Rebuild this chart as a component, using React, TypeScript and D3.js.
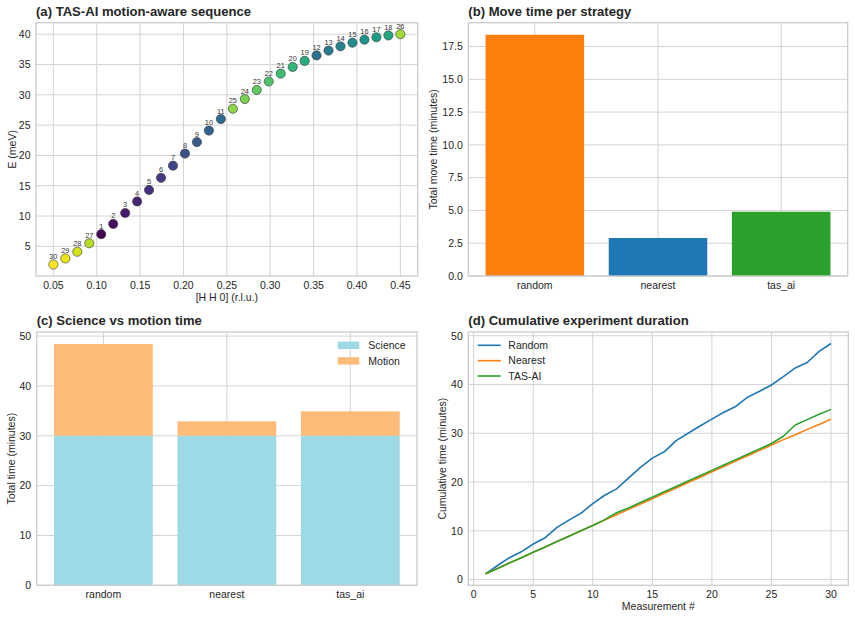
import React, { useEffect, useRef } from 'react';
import * as d3 from 'd3';

// (a) measurement points, listed by position along [H H 0]
const qValues = [
  0.05, 0.0638, 0.0776, 0.0914, 0.1052, 0.119, 0.1328, 0.1466, 0.1603, 0.1741,
  0.1879, 0.2017, 0.2155, 0.2293, 0.2431, 0.2569, 0.2707, 0.2845, 0.2983, 0.3121,
  0.3259, 0.3397, 0.3534, 0.3672, 0.381, 0.3948, 0.4086, 0.4224, 0.4362, 0.45,
];
const energyValues = [
  2.0, 3.0, 4.1, 5.5, 7.0, 8.7, 10.5, 12.4, 14.3, 16.3,
  18.3, 20.3, 22.2, 24.1, 26.0, 27.7, 29.3, 30.8, 32.2, 33.5,
  34.6, 35.6, 36.5, 37.3, 38.0, 38.6, 39.1, 39.5, 39.8, 40.0,
];
// order in which TAS-AI visits each point
const visitOrder = [
  30, 29, 28, 27, 1, 2, 3, 4, 5, 6,
  7, 8, 9, 10, 11, 25, 24, 23, 22, 21,
  20, 19, 12, 13, 14, 15, 16, 17, 18, 26,
];

// (b) / (c) strategy totals
const strategies = ['random', 'nearest', 'tas_ai'];
const moveMinutes = [18.4, 2.9, 4.9];
const scienceMinutes = [30, 30, 30];
const strategyColors = ['#ff7f0e', '#1f77b4', '#2ca02c'];

// (d) cumulative time per measurement
const measurementNo = d3.range(1, 31);
const cumRandom = [
  1.2, 2.9, 4.5, 5.7, 7.3, 8.6, 10.7, 12.2, 13.6, 15.6,
  17.3, 18.6, 20.8, 23.0, 24.9, 26.2, 28.5, 30.0, 31.5, 32.9,
  34.3, 35.5, 37.4, 38.6, 39.9, 41.6, 43.4, 44.5, 46.8, 48.4,
];
const cumNearest = [
  1.2, 2.3, 3.4, 4.5, 5.6, 6.7, 7.8, 8.9, 10.0, 11.1,
  12.2, 13.3, 14.4, 15.5, 16.6, 17.7, 18.8, 19.9, 21.0, 22.1,
  23.2, 24.3, 25.4, 26.5, 27.6, 28.7, 29.7, 30.8, 31.8, 32.9,
];
const cumTasAi = [
  1.2, 2.3, 3.4, 4.5, 5.6, 6.7, 7.8, 8.9, 10.0, 11.1,
  12.3, 13.7, 14.7, 15.8, 16.9, 18.0, 19.1, 20.2, 21.3, 22.4,
  23.5, 24.6, 25.7, 26.8, 27.9, 29.4, 31.7, 32.8, 33.9, 34.9,
];
const lineSeries = [
  { name: 'Random', values: cumRandom, color: '#1f77b4' },
  { name: 'Nearest', values: cumNearest, color: '#ff7f0e' },
  { name: 'TAS-AI', values: cumTasAi, color: '#2ca02c' },
];

const FONT = '"Liberation Sans", Arial, sans-serif';
const TEXT = '#262626';
const GRID = '#d4d4d4';
const TICK_SIZE = 10.5;

type Box = { left: number; right: number; top: number; bottom: number };

function frame(svg, box: Box, title: string, xLabel: string, yLabel: string, yLabelX: number) {
  const g = svg.append('g');
  g.append('rect')
    .attr('x', box.left).attr('y', box.top)
    .attr('width', box.right - box.left).attr('height', box.bottom - box.top)
    .attr('fill', 'white');
  svg.append('text')
    .attr('x', box.left).attr('y', box.top - 7)
    .attr('font-family', FONT).attr('font-size', 13.1).attr('font-weight', 'bold')
    .attr('fill', TEXT).text(title);
  svg.append('text')
    .attr('x', (box.left + box.right) / 2).attr('y', box.bottom + 25)
    .attr('text-anchor', 'middle')
    .attr('font-family', FONT).attr('font-size', TICK_SIZE)
    .attr('fill', TEXT).text(xLabel);
  const cy = (box.top + box.bottom) / 2;
  svg.append('text')
    .attr('transform', `translate(${yLabelX},${cy}) rotate(-90)`)
    .attr('text-anchor', 'middle')
    .attr('font-family', FONT).attr('font-size', TICK_SIZE)
    .attr('fill', TEXT).text(yLabel);
}

function gridAndTicks(svg, box: Box, xTicks, yTicks) {
  const g = svg.append('g');
  xTicks.forEach(t => {
    g.append('line')
      .attr('x1', t.pos).attr('x2', t.pos).attr('y1', box.top).attr('y2', box.bottom)
      .attr('stroke', GRID).attr('stroke-width', 1);
    svg.append('text')
      .attr('x', t.pos).attr('y', box.bottom + 13)
      .attr('text-anchor', 'middle')
      .attr('font-family', FONT).attr('font-size', TICK_SIZE)
      .attr('fill', TEXT).text(t.label);
  });
  yTicks.forEach(t => {
    g.append('line')
      .attr('x1', box.left).attr('x2', box.right).attr('y1', t.pos).attr('y2', t.pos)
      .attr('stroke', GRID).attr('stroke-width', 1);
    svg.append('text')
      .attr('x', box.left - 5.5).attr('y', t.pos + 3.8)
      .attr('text-anchor', 'end')
      .attr('font-family', FONT).attr('font-size', TICK_SIZE)
      .attr('fill', TEXT).text(t.label);
  });
}

function spines(svg, box: Box) {
  svg.append('rect')
    .attr('x', box.left).attr('y', box.top)
    .attr('width', box.right - box.left).attr('height', box.bottom - box.top)
    .attr('fill', 'none').attr('stroke', '#cccccc').attr('stroke-width', 1.3);
}

const App = () => {
  const ref = useRef<SVGSVGElement>(null);

  useEffect(() => {
    const svg = d3.select(ref.current);
    svg.selectAll('*').remove();

    // ---- (a) scatter of visit order ----
    const boxA = { left: 36, right: 417.7, top: 22.7, bottom: 276 };
    frame(svg, boxA, '(a) TAS-AI motion-aware sequence', '[H H 0] (r.l.u.)', 'E (meV)', 15.5);
    const xA = d3.scaleLinear().domain([0.03, 0.47]).range([boxA.left, boxA.right]);
    const yA = d3.scaleLinear().domain([0.1, 41.9]).range([boxA.bottom, boxA.top]);
    gridAndTicks(
      svg, boxA,
      d3.range(0.05, 0.451, 0.05).map(v => ({ pos: xA(v), label: d3.format('.2f')(v) })),
      d3.range(5, 41, 5).map(v => ({ pos: yA(v), label: String(v) })),
    );
    const color = d3.scaleSequential(d3.interpolateViridis).domain([1, 30]);
    const pts = svg.append('g');
    qValues.forEach((q, i) => {
      pts.append('circle')
        .attr('cx', xA(q)).attr('cy', yA(energyValues[i])).attr('r', 4.6)
        .attr('fill', color(visitOrder[i]))
        .attr('stroke', '#333').attr('stroke-width', 0.6);
      pts.append('text')
        .attr('x', xA(q)).attr('y', yA(energyValues[i]) - 5.5)
        .attr('text-anchor', 'middle')
        .attr('font-family', FONT).attr('font-size', 7.4)
        .attr('fill', '#333').text(visitOrder[i]);
    });
    spines(svg, boxA);

    // ---- (b) move time bars ----
    const boxB = { left: 468.3, right: 847.7, top: 22.7, bottom: 276 };
    frame(svg, boxB, '(b) Move time per strategy', '', 'Total move time (minutes)', 436.5);
    const xB = d3.scaleLinear().domain([-0.54, 2.54]).range([boxB.left, boxB.right]);
    const yB = d3.scaleLinear().domain([0, d3.max(moveMinutes) * 1.05]).range([boxB.bottom, boxB.top]);
    gridAndTicks(
      svg, boxB,
      strategies.map((s, i) => ({ pos: xB(i), label: s })),
      d3.range(0, 17.6, 2.5).map(v => ({ pos: yB(v), label: d3.format('.1f')(v) })),
    );
    svg.append('g').selectAll('rect')
      .data(moveMinutes)
      .enter()
      .append('rect')
      .attr('x', (d, i) => xB(i - 0.4))
      .attr('width', xB(0.4) - xB(-0.4))
      .attr('y', d => yB(d))
      .attr('height', d => yB(0) - yB(d))
      .attr('fill', (d, i) => strategyColors[i]);
    spines(svg, boxB);

    // ---- (c) stacked science + motion ----
    const boxC = { left: 36.7, right: 417, top: 332, bottom: 585.3 };
    frame(svg, boxC, '(c) Science vs motion time', '', 'Total time (minutes)', 15);
    const totals = scienceMinutes.map((s, i) => s + moveMinutes[i]);
    const xC = d3.scaleLinear().domain([-0.54, 2.54]).range([boxC.left, boxC.right]);
    const yC = d3.scaleLinear().domain([0, d3.max(totals) * 1.05]).range([boxC.bottom, boxC.top]);
    gridAndTicks(
      svg, boxC,
      strategies.map((s, i) => ({ pos: xC(i), label: s })),
      d3.range(0, 51, 10).map(v => ({ pos: yC(v), label: String(v) })),
    );
    const stackRows = strategies.map((s, i) => ({ science: scienceMinutes[i], motion: moveMinutes[i] }));
    const stacked = d3.stack().keys(['science', 'motion'])(stackRows);
    const stackColors = { science: '#9edae5', motion: '#ffbb78' };
    stacked.forEach(layer => {
      svg.append('g').selectAll('rect')
        .data(layer)
        .enter()
        .append('rect')
        .attr('x', (d, i) => xC(i - 0.4))
        .attr('width', xC(0.4) - xC(-0.4))
        .attr('y', d => yC(d[1]))
        .attr('height', d => yC(d[0]) - yC(d[1]))
        .attr('fill', stackColors[layer.key]);
    });
    [['Science', stackColors.science], ['Motion', stackColors.motion]].forEach(([name, c], i) => {
      const cy = 345.3 + i * 15.6;
      svg.append('rect')
        .attr('x', 337.7).attr('y', cy - 3.7).attr('width', 21.6).attr('height', 7.4)
        .attr('fill', c);
      svg.append('text')
        .attr('x', 368.3).attr('y', cy + 3.7)
        .attr('font-family', FONT).attr('font-size', TICK_SIZE)
        .attr('fill', TEXT).text(name);
    });
    spines(svg, boxC);

    // ---- (d) cumulative duration ----
    const boxD = { left: 468.3, right: 848.3, top: 332, bottom: 585.3 };
    frame(svg, boxD, '(d) Cumulative experiment duration', 'Measurement #', 'Cumulative time (minutes)', 446);
    const xD = d3.scaleLinear().domain([-0.45, 31.45]).range([boxD.left, boxD.right]);
    const yD = d3.scaleLinear().domain([-1.16, 50.76]).range([boxD.bottom, boxD.top]);
    gridAndTicks(
      svg, boxD,
      d3.range(0, 31, 5).map(v => ({ pos: xD(v), label: String(v) })),
      d3.range(0, 51, 10).map(v => ({ pos: yD(v), label: String(v) })),
    );
    const line = d3.line<number>()
      .x((d, i) => xD(measurementNo[i]))
      .y(d => yD(d));
    lineSeries.forEach(s => {
      svg.append('path')
        .attr('d', line(s.values))
        .attr('fill', 'none')
        .attr('stroke', s.color)
        .attr('stroke-width', 1.6)
        .attr('stroke-linejoin', 'round');
    });
    lineSeries.forEach((s, i) => {
      const cy = 345.3 + i * 15.35;
      svg.append('line')
        .attr('x1', 477.7).attr('x2', 500.7).attr('y1', cy).attr('y2', cy)
        .attr('stroke', s.color).attr('stroke-width', 1.6);
      svg.append('text')
        .attr('x', 508.3).attr('y', cy + 3.7)
        .attr('font-family', FONT).attr('font-size', TICK_SIZE)
        .attr('fill', TEXT).text(s.name);
    });
    spines(svg, boxD);
  }, []);

  return <svg ref={ref} width={855} height={618} style={{ display: 'block', position: 'absolute', left: 0, top: 0, background: 'white' }}></svg>;
};

export default App;
